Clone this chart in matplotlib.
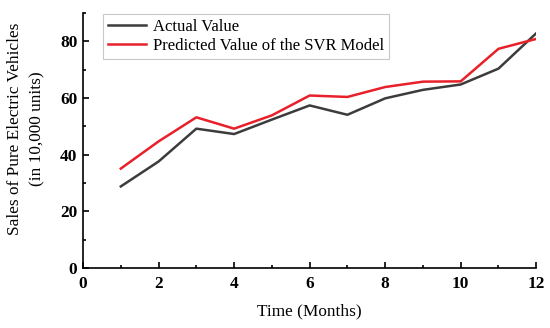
import matplotlib
matplotlib.use("Agg")
import matplotlib.pyplot as plt
from matplotlib.ticker import MultipleLocator

plt.rcParams['font.family'] = ['Liberation Serif', 'DejaVu Serif']

months = [1, 2, 3, 4, 5, 6, 7, 8, 9, 10, 11, 12]
actual = [28.8, 37.6, 49.2, 47.3, 52.4, 57.4, 54.1, 59.9, 62.9, 64.8, 70.4, 82.9]
predicted = [35.1, 44.7, 53.2, 49.2, 53.9, 60.9, 60.4, 63.9, 65.8, 65.9, 77.4, 80.9]

fig = plt.figure(figsize=(5.5, 3.28), dpi=100)
ax = fig.add_axes([0.151, 0.183, 0.824, 0.777])

ax.plot(months, actual, color='#3c3c3c', lw=1.8, label='Actual Value')
ax.plot(months, predicted, color='#e8202a', lw=1.8, label='Predicted Value of the SVR Model')

ax.set_xlim(0, 12)
ax.set_ylim(0, 90)
ax.xaxis.set_major_locator(MultipleLocator(2))
ax.xaxis.set_minor_locator(MultipleLocator(1))
ax.yaxis.set_major_locator(MultipleLocator(20))
ax.yaxis.set_minor_locator(MultipleLocator(10))
ax.tick_params(which='both', direction='in', width=1.2, labelsize=12.4)
ax.tick_params(which='major', length=4)
ax.tick_params(which='minor', length=2.5)
ax.tick_params(axis='x', pad=6)
ax.tick_params(axis='y', pad=4)
for lbl in ax.get_xticklabels() + ax.get_yticklabels():
    lbl.set_fontweight('bold')

for s in ['top', 'right']:
    ax.spines[s].set_visible(False)
for s in ['left', 'bottom']:
    ax.spines[s].set_linewidth(1.2)

ax.set_xlabel('Time (Months)', fontsize=12.4, labelpad=8)
ax.set_ylabel('Sales of Pure Electric Vehicles\n(in 10,000 units)', fontsize=12.4,
              linespacing=1.5)
ax.yaxis.set_label_coords(-0.084, 0.545)

leg = ax.legend(loc='upper left', bbox_to_anchor=(0.042, 1.0), fontsize=12,
                fancybox=False, edgecolor='#bbbbbb', handlelength=2.3,
                borderpad=0.3, labelspacing=0.2, handletextpad=0.4,
                borderaxespad=0.05)
leg.get_frame().set_linewidth(0.8)

fig.savefig('out.png', dpi=100)
